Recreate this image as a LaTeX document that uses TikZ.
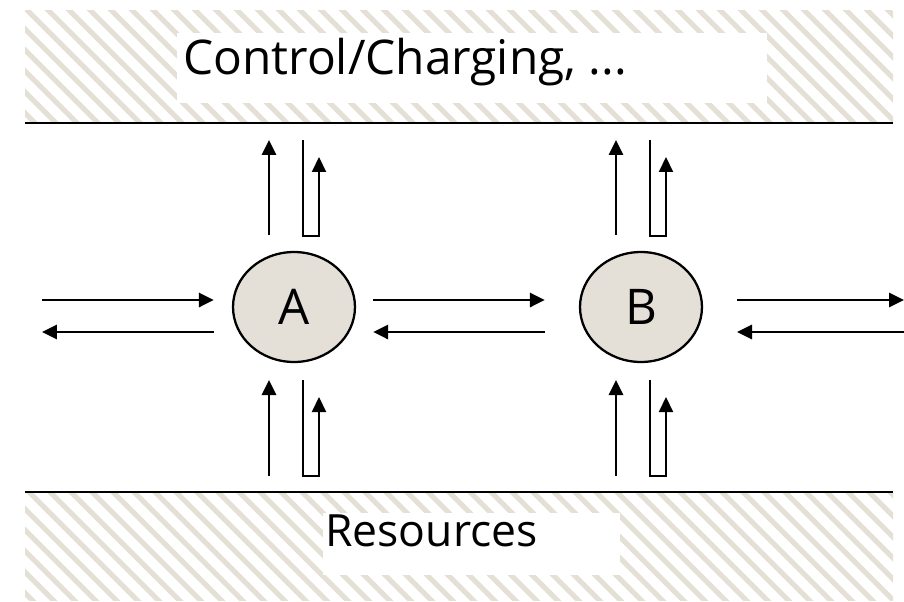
\documentclass[tikz,border=0pt]{standalone}
\usepackage{fontspec}
\setmainfont{Open Sans}
\usetikzlibrary{arrows.meta,shapes.geometric,calc}
\definecolor{hatch}{RGB}{228,224,214}
\definecolor{nodefill}{RGB}{228,224,216}

\begin{document}
\begin{tikzpicture}[x=0.02cm,y=-0.02cm,
    flow/.style={line width=1.7pt,-{Triangle[length=0.3cm,width=0.28cm]}},
    uturn/.style={line width=1.2pt,-{Triangle[length=0.3cm,width=0.28cm]}},
    station/.style={ellipse,draw,line width=1.3pt,fill=nodefill,minimum width=2.44cm,
        minimum height=2.2cm,inner sep=0pt,font=\fontsize{28}{28}\selectfont},
    stripe/.style={hatch,line width=3pt},
    border/.style={line width=1.7pt},
    label/.style={anchor=base west,inner sep=0pt}]
    \useasboundingbox (0,0) rectangle (904,602);

    % hatched bands
    \begin{scope}
        \clip (25,10) rectangle (893,123);
        \foreach \s in {0,...,48}
            \draw[stripe] (\s*21-130,0) -- ++(150,150);
    \end{scope}
    \begin{scope}
        \clip (25,492) rectangle (893,600);
        \foreach \s in {0,...,48}
            \draw[stripe] (\s*21-130,480) -- ++(150,150);
    \end{scope}
    \fill[white] (177,33) rectangle (767,103);
    \fill[white] (323,513) rectangle (620,575);
    \draw[border] (25,123) -- (893,123);
    \draw[border] (25,492) -- (893,492);

    \node[label,font=\fontsize{27.2}{27}\selectfont] (ctrl) at (183,74) {Control/Charging, ...};
    \node[label,font=\fontsize{25.3}{25}\selectfont] (res) at (325,546) {Resources};

    % the two nodes
    \node[station] (A) at (294,307) {A};
    \node[station] (B) at (641,307) {B};

    % horizontal traffic
    \coordinate (inL) at (42,300);
    \coordinate (outL) at (42,332);
    \coordinate (inR) at (904,300);
    \coordinate (outR) at (737,332);
    \draw[flow] (inL) -- ($(A.west)+(-18,-7)$);
    \draw[flow] ($(A.west)+(-18,25)$) -- (outL);
    \draw[flow] ($(A.east)+(17,-7)$) -- ($(B.west)+(-34,-7)$);
    \draw[flow] ($(B.west)+(-34,25)$) -- ($(A.east)+(17,25)$);
    \draw[flow] ($(B.east)+(34,-7)$) -- (inR);
    \draw[flow] (inR |- outR) -- (outR);

    % vertical traffic
    \foreach \n in {A,B} {
        \draw[flow] ($(\n)+(-25,-72)$) -- ($(\n)+(-25,-167)$);
        \draw[uturn] ($(\n)+(9,-167)$) -- ($(\n)+(9,-71)$) -- ($(\n)+(25,-71)$) -- ($(\n)+(25,-150)$);
        \draw[flow] ($(\n)+(-25,169)$) -- ($(\n)+(-25,73)$);
        \draw[uturn] ($(\n)+(9,73)$) -- ($(\n)+(9,169)$) -- ($(\n)+(25,169)$) -- ($(\n)+(25,90)$);
    }
\end{tikzpicture}
\end{document}
